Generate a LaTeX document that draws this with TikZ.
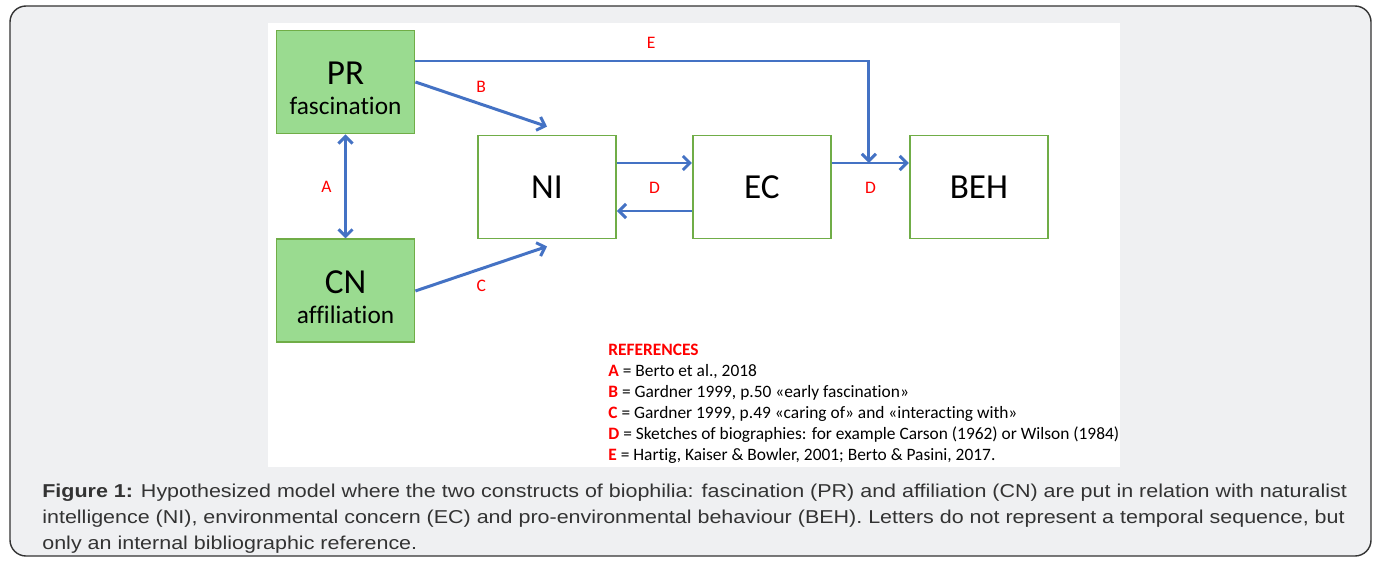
\documentclass[tikz,border=0pt]{standalone}
\usepackage{fontspec}
\setmainfont{Carlito}[Ligatures=NoCommon]
\newfontfamily\capfont{Liberation Sans}[FakeStretch=1.153]
\usetikzlibrary{arrows.meta,positioning}
\definecolor{boxgreen}{HTML}{70AD47}
\definecolor{fillgreen}{HTML}{9ADB90}
\definecolor{arrblue}{HTML}{4472C4}
\definecolor{pagegray}{HTML}{EFF0F2}

\begin{document}
\begin{tikzpicture}[node distance=1.5cm, >={Straight Barb[length=4pt,width=8pt]},
  construct/.style={draw=boxgreen, fill=white, line width=1.1pt, minimum width=2.76cm, minimum height=2.06cm, inner sep=0pt, font=\fontsize{20}{24}\selectfont},
  source/.style={construct, fill=fillgreen, align=center, font=\fontsize{20}{17}\selectfont},
  link/.style={->, draw=arrblue, line width=1.7pt},
  lbl/.style={text=red, font=\fontsize{10}{12}\selectfont}]
  \useasboundingbox (0,0) rectangle (27.58,-11.2);
  \draw[draw=black!80, fill=pagegray, line width=0.8pt, rounded corners=0.32cm] (0.2,-0.12) rectangle (27.42,-11.12);
  \fill[white] (5.36,-0.46) rectangle (22.4,-9.34);

  % the two constructs of biophilia
  \node[source] (PR) at (6.91,-1.64) {\rule{0pt}{20pt}PR\\{\fontsize{14.4}{17}\selectfont fascination}};
  \node[source, below=2.08cm of PR] (CN) {\rule{0pt}{20pt}CN\\{\fontsize{14.4}{17}\selectfont affiliation}};
  \node[construct] (NI) at (10.94,-3.74) {NI};
  \node[construct, right=of NI] (EC) {EC};
  \node[construct, right=1.54cm of EC] (BEH) {BEH};

  \draw[link, <->] (PR) -- node[lbl, xshift=-0.38cm] {A} (CN);
  \draw[link] (PR.east) -- node[lbl, yshift=0.34cm] {B} ([yshift=0.16cm]NI.north);
  \draw[link] (CN.east) -- node[lbl, yshift=-0.34cm] {C} ([yshift=-0.14cm]NI.south);
  \draw[link] ([yshift=0.42cm]PR.east) -| node[lbl, pos=0.26, yshift=0.36cm] {E} ([xshift=-0.8cm, yshift=0.48cm]BEH.west);
  \draw[link] ([yshift=0.48cm]NI.east) -- node[lbl, yshift=-0.5cm] {D} ([yshift=0.48cm]EC.west);
  \draw[link] ([yshift=-0.48cm]EC.west) -- ([yshift=-0.48cm]NI.east);
  \draw[link] ([yshift=0.48cm]EC.east) -- node[lbl, yshift=-0.5cm] {D} ([yshift=0.48cm]BEH.west);

  \node[anchor=north west, inner sep=0pt, align=left, font=\fontsize{9.9}{11.9}\selectfont] (refs) at (12.16,-6.88)
    {\textcolor{red}{\textbf{REFERENCES}}\\
     \textcolor{red}{\textbf{A}} = Berto et al., 2018\\
     \textcolor{red}{\textbf{B}} = Gardner 1999, p.50 «early fascination»\\
     \textcolor{red}{\textbf{C}} = Gardner 1999, p.49 «caring of» and «interacting with»\\
     \textcolor{red}{\textbf{D}} = Sketches of biographies: for example Carson (1962) or Wilson (1984)\\
     \textcolor{red}{\textbf{E}} = Hartig, Kaiser \& Bowler, 2001; Berto \& Pasini, 2017.};

  \node[anchor=north west, inner sep=0pt, align=left, text=black!80, font=\capfont\fontsize{10.6}{14.7}\selectfont] (caption) at (0.84,-9.68)
    {\textbf{Figure 1:} Hypothesized model where the two constructs of biophilia: fascination (PR) and affiliation (CN) are put in relation with naturalist\\
     intelligence (NI), environmental concern (EC) and pro-environmental behaviour (BEH). Letters do not represent a temporal sequence, but\\
     only an internal bibliographic reference.};
\end{tikzpicture}
\end{document}
